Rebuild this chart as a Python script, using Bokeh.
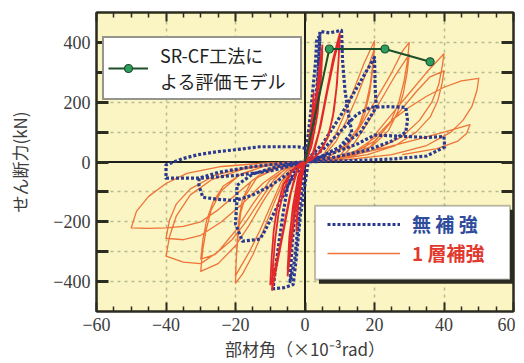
from bokeh.plotting import figure
from bokeh.models import (LinearAxis, FixedTicker, Span, Legend, LegendItem,
                          BoxAnnotation, Range1d)
from bokeh.embed import file_html
from bokeh.resources import INLINE

# ---------------- data (x: member angle 1e-3 rad, y: shear force kN) ----------------
x_ticks = [-60, -40, -20, 0, 20, 40, 60]
x_minor = [-55, -50, -45, -35, -30, -25, -15, -10, -5, 5, 10, 15, 25, 30, 35, 45, 50, 55]
y_ticks = [-400, -300, -200, -100, 0, 100, 200, 300, 400]
x_grid = [-40, -20, 20, 40]
y_grid = [-400, -300, -200, -100, 100, 200, 300, 400]

# 1層補強 : small cycles (dense, red)
r1_x = [0, 1, 2, 2.5, 2.2, 1.2, 0, -1, -2, -2.5, -2.2, -1.2, 0]
r1_y = [0, 60, 150, 230, 150, 50, 0, -60, -150, -230, -150, -50, 0]
r2_x = [0, 1.5, 3, 4, 5, 4.6, 3.6, 2, 0.5, -1, -2.5, -3.8, -5, -4.6, -3.5, -2, -0.5, 0.5]
r2_y = [0, 80, 200, 300, 390, 280, 160, 60, 10, -40, -130, -260, -380, -270, -150, -50, -5, 10]
r3_x = [0.5, 1.8, 3.2, 4.2, 5, 4.5, 3.3, 1.8, 0.3, -1.2, -2.8, -4, -5, -4.5, -3.2, -1.6, 0]
r3_y = [10, 80, 190, 290, 370, 260, 140, 50, 5, -40, -140, -260, -360, -250, -130, -40, 0]
r4_x = [0, 2, 4, 6, 8, 10, 9.7, 9.2, 8.3, 6.8, 4.5, 2, 0, -2, -4, -6, -8, -9.5, -9.2, -8.6, -7.6, -6, -4, -1.5, 0.5]
r4_y = [0, 20, 100, 220, 340, 430, 350, 260, 170, 90, 35, 8, 0, -20, -100, -220, -340, -428, -350, -260, -170, -90, -35, -5, 5]
r5_x = [0.5, 2.5, 4.5, 6.5, 8.5, 10, 9.6, 9, 8, 6.5, 4, 1.5, -0.5, -2.5, -4.5, -6.5, -8.5, -10, -9.6, -9, -8, -6.2, -3.5, -1, 0.5]
r5_y = [5, 30, 120, 240, 350, 415, 330, 240, 150, 80, 30, 5, -5, -30, -120, -240, -350, -410, -320, -230, -150, -75, -25, -3, 5]

# 1層補強 : large cycles (orange)
o1_x = [0.5, 5, 8, 11, 14, 17, 20, 19.6, 18.8, 17.5, 15.5, 12, 7, 2, -1, -3, -6, -9, -12, -15, -18, -20, -19.8, -19.5, -19, -18, -15.5, -11, -5, -1]
o1_y = [5, 20, 70, 150, 240, 330, 405, 340, 260, 190, 120, 60, 20, 3, -5, -15, -60, -140, -230, -310, -375, -405, -330, -260, -190, -125, -65, -25, -5, 0]
o2_x = [0, 5.5, 9, 12, 15, 18, 20, 19.5, 18.6, 17.2, 15, 11.5, 6.5, 1.5, -2, -4, -7, -10, -13, -16, -18.5, -20, -19.7, -19.2, -18.5, -17, -14, -9, -3, 0]
o2_y = [0, 20, 70, 140, 220, 310, 380, 310, 230, 160, 100, 50, 15, 2, -8, -20, -70, -150, -230, -300, -350, -380, -310, -240, -170, -110, -55, -20, -3, 0]
o3_x = [0, 10, 12, 16, 20, 25, 28, 30, 29.5, 28.5, 27, 24.5, 20, 14, 7, 1, -4, -8, -12, -16, -20, -25, -30, -29.5, -28.5, -27, -24, -19, -12, -5, 0]
o3_y = [0, 20, 50, 120, 200, 300, 370, 400, 340, 270, 200, 130, 70, 30, 8, 1, -15, -60, -130, -210, -280, -340, -366, -300, -230, -160, -95, -45, -15, -3, 0]
o4_x = [0, 11, 14, 18, 22, 26, 30, 29.4, 28.3, 26.6, 24, 19.5, 13, 6, 0, -5, -9, -13, -17, -21, -26, -30, -29.4, -28.3, -26.5, -23.5, -18, -11, -4, 0]
o4_y = [0, 20, 60, 130, 210, 290, 360, 300, 230, 165, 105, 55, 22, 5, 0, -15, -60, -130, -200, -260, -310, -325, -260, -195, -135, -80, -38, -12, -2, 0]
o5_x = [0, 12, 16, 20, 25, 30, 35, 40, 39.5, 38.5, 36.5, 33, 28, 20, 10, 2, -5, -10, -15, -20, -25, -30, -35, -40, -39, -37, -33, -27, -18, -8, 0]
o5_y = [0, 15, 30, 90, 160, 230, 300, 362, 320, 260, 200, 140, 85, 40, 12, 2, -20, -60, -140, -230, -300, -340, -335, -315, -250, -180, -110, -60, -25, -5, 0]
o6_x = [0, 13, 18, 22, 27, 32, 36, 40, 39.4, 38.2, 36, 32, 26, 18, 9, 1, -6, -12, -18, -24, -30, -35, -40, -39, -37, -33, -26, -17, -7, 0]
o6_y = [0, 15, 40, 95, 165, 235, 285, 305, 260, 205, 150, 100, 55, 25, 8, 1, -20, -70, -140, -200, -245, -260, -255, -195, -140, -90, -45, -18, -4, 0]
o7_x = [0, 10, 15, 20, 25, 30, 35, 40, 45, 50, 49.5, 48, 45.5, 42, 35, 25, 12, 2, -8, -15, -20, -25, -30, -35, -40, -45, -50, -48.5, -45, -40, -34, -24, -12, -2]
o7_y = [0, 15, 40, 80, 140, 183, 220, 250, 271, 280, 240, 185, 140, 100, 55, 25, 8, 1, -20, -60, -110, -160, -200, -215, -220, -222, -220, -165, -115, -72, -38, -15, -4, 0]
o8_x = [0, 12, 22, 32, 40, 47.5, 46.5, 44, 38, 28]
o8_y = [0, 20, 45, 75, 100, 125, 95, 70, 45, 25]

# 無補強 (blue dashed)
b1_x = [0, 1.5, 3, 3.4, 4.3, 3.8, 2.5, 1, 0, -1.5, -3, -4.3, -3.8, -2.5, -1, 0]
b1_y = [0, 150, 330, 413, 420, 300, 130, 30, 0, -150, -330, -400, -290, -120, -25, 0]
b2_x = [0, 1.5, 3.4, 4.3, 7, 10.5, 10.8, 11.5, 12.5, 13.5, 10, 5, 1, -1.4, -2.5, -3.4, -6, -9.2, -8.5, -7.5, -6.3, -5, -3, 0]
b2_y = [0, 80, 176, 437, 432, 440, 340, 240, 160, 98, 50, 20, 5, -186, -320, -410, -420, -424, -360, -270, -173, -80, -30, 0]
b3_x = [0, 5, 10, 15, 19, 20, 20.2, 20.5, 16, 10, 4, 0, -4, -8, -12, -13, -18, -20, -19.6, -19.6, -15, -8, 0]
b3_y = [0, 60, 150, 250, 330, 350, 250, 183, 100, 50, 15, 0, -60, -150, -240, -258, -265, -207, -130, -78, -40, -15, 0]
b4_x = [0, 5, 10, 15, 19, 24, 29, 29.5, 29, 25, 18, 8, 0, -5, -10, -15, -20, -25, -29.4, -30.5, -30.5, -25, -15, -5, 0]
b4_y = [0, 40, 100, 160, 183, 185, 183, 140, 100, 70, 40, 15, 0, -40, -80, -110, -129, -125, -118, -80, -54, -35, -15, -3, 0]
b5_x = [0, 8, 15, 20, 30, 35, 40, 40.2, 35, 25, 15, 5, 0, -10, -20, -30, -35, -40, -40, -40, -35, -31, -25, -20, -13, -2, 2]
b5_y = [0, 30, 60, 90, 85, 82, 85, 50, 20, 10, 5, 2, 0, -30, -45, -54, -54, -54, -30, -10, 12, 24, 35, 41, 51, 51, 40]

# SR-CF工法による評価モデル
model_x = [0, 7, 23, 36]
model_y = [0, 378, 378, 335]

# ---------------- figure ----------------
JP = "Noto Sans CJK JP"
NUM = "Liberation Sans Narrow"
INK = "#2b2b20"

p = figure(frame_width=417, frame_height=299, x_range=Range1d(-60, 60), y_range=Range1d(-500, 500),
           output_backend="svg", toolbar_location=None,
           min_border_left=96, min_border_right=2, min_border_top=12, min_border_bottom=46,
           background_fill_color="#FBF5C4", border_fill_color="white")
p.outline_line_color = INK
p.outline_line_width = 2

p.xgrid.ticker = FixedTicker(ticks=x_grid)
p.ygrid.ticker = FixedTicker(ticks=y_grid)
for g in (p.xgrid, p.ygrid):
    g.grid_line_color = "#B7BA8C"
    g.grid_line_dash = "3 4"
    g.grid_line_width = 1.5

def style_x(ax, labels=True):
    ax.ticker = FixedTicker(ticks=x_ticks, minor_ticks=x_minor)
    ax.major_tick_in = 9
    ax.major_tick_out = 0
    ax.minor_tick_in = 5
    ax.minor_tick_out = 0
    ax.major_tick_line_width = 2
    ax.minor_tick_line_width = 1.5
    ax.major_tick_line_color = INK
    ax.minor_tick_line_color = INK
    ax.axis_line_color = INK
    ax.axis_line_width = 2
    if labels:
        ax.major_label_text_font = NUM
        ax.major_label_text_font_size = "18px"
        ax.major_label_text_color = "#3c3c3c"
        ax.major_label_standoff = 6
        ax.major_label_overrides = {-60: "\u221260", -40: "\u221240", -20: "\u221220"}
    else:
        ax.major_label_text_font_size = "1px"
        ax.major_label_standoff = 0
        ax.major_label_overrides = {t: "" for t in x_ticks}

def style_y(ax, labels=True):
    ax.ticker = FixedTicker(ticks=y_ticks)
    ax.major_tick_in = 12
    ax.major_tick_out = 0
    ax.minor_tick_in = 0
    ax.minor_tick_out = 0
    ax.major_tick_line_width = 3
    ax.major_tick_line_color = INK
    ax.axis_line_color = INK
    ax.axis_line_width = 2
    if labels:
        ax.major_label_text_font = NUM
        ax.major_label_text_font_size = "18px"
        ax.major_label_text_color = "#3c3c3c"
        ax.major_label_standoff = 6
        ax.major_label_overrides = {400: "400", 300: "", 200: "200", 100: "", 0: "0",
                                    -100: "", -200: "\u2212200", -300: "", -400: "\u2212400"}
    else:
        ax.major_label_text_font_size = "1px"
        ax.major_label_standoff = 0
        ax.major_label_overrides = {t: "" for t in y_ticks}

style_x(p.xaxis[0])
style_y(p.yaxis[0])
p.xaxis[0].axis_label = "部材角（×10⁻³rad）"
p.yaxis[0].axis_label = "せん断力(kN)"
for ax in (p.xaxis[0], p.yaxis[0]):
    ax.axis_label_text_font = JP
    ax.axis_label_text_font_size = "17px"
    ax.axis_label_text_font_style = "normal"
    ax.axis_label_text_color = "#3c3c3c"
p.xaxis[0].axis_label_standoff = 2
p.yaxis[0].axis_label_standoff = 18

top = LinearAxis()
style_x(top, labels=False)
p.add_layout(top, "above")
right = LinearAxis()
style_y(right, labels=False)
p.add_layout(right, "right")

# zero lines
p.add_layout(Span(location=0, dimension="width", line_color="#1e1e18", line_width=2, level="underlay"))
p.add_layout(Span(location=0, dimension="height", line_color="#1e1e18", line_width=2, level="underlay"))

def join(*parts):
    out = []
    for q in parts:
        out += q
    return out

ORANGE = "#EE7438"
RED = "#E3282C"
BLUE = "#2B3A8F"

orange = p.line(join(o1_x, o2_x, o3_x, o4_x, o5_x, o6_x, o7_x, o8_x),
                join(o1_y, o2_y, o3_y, o4_y, o5_y, o6_y, o7_y, o8_y),
                line_color=ORANGE, line_width=1.3, line_join="round")
blue = p.line(join(b1_x, b2_x, b3_x, b4_x, b5_x), join(b1_y, b2_y, b3_y, b4_y, b5_y),
              line_color=BLUE, line_width=3.2, line_dash="3 2", line_join="round")
red = p.line(join(r1_x, r2_x, r3_x, r4_x, r5_x), join(r1_y, r2_y, r3_y, r4_y, r5_y),
             line_color=RED, line_width=1.8, line_join="round")

mline = p.line(model_x, model_y, line_color="#1D4F2A", line_width=2)
mpts = p.scatter(model_x[1:], model_y[1:], size=8, fill_color="#2E9E5E", line_color="#1D4F2A", line_width=1.2)

# legend 1 (model)
leg1 = Legend(items=[LegendItem(label="SR-CF工法に\nよる評価モデル", renderers=[mline, mpts])],
              location=(6, 211), padding=4, margin=0, spacing=0,
              glyph_width=40, glyph_height=20, label_standoff=12, label_width=136,
              label_text_font=JP, label_text_font_size="18px", label_text_color="#1e1e1e",
              label_text_line_height=0.85,
              border_line_color=INK, border_line_width=2,
              background_fill_color="white", background_fill_alpha=1.0)
p.add_layout(leg1)

# legend 2 frame (shadow + box)
p.add_layout(BoxAnnotation(left=4.0, right=60.2, top=-160, bottom=-407,
                           fill_color="#2a2a22", fill_alpha=1.0, line_alpha=0))
p.add_layout(BoxAnnotation(left=2.9, right=59.0, top=-146, bottom=-393,
                           fill_color="white", fill_alpha=1.0, line_color=INK, line_width=2))

leg_b = Legend(items=[LegendItem(label="無 補 強", renderers=[blue])],
               location=(231, 74), padding=0, margin=0, spacing=0,
               glyph_width=73, glyph_height=20, label_standoff=12,
               label_text_font=JP, label_text_font_size="19px", label_text_font_style="bold",
               label_text_color="#2F4C9C", border_line_alpha=0, background_fill_alpha=0)
leg_r = Legend(items=[LegendItem(label="1 層補強", renderers=[orange])],
               location=(231, 45), padding=0, margin=0, spacing=0,
               glyph_width=73, glyph_height=20, label_standoff=12,
               label_text_font=JP, label_text_font_size="19px", label_text_font_style="bold",
               label_text_color="#E2392F", border_line_alpha=0, background_fill_alpha=0)
p.add_layout(leg_b)
p.add_layout(leg_r)

open("out.html", "w").write(file_html(p, INLINE))
